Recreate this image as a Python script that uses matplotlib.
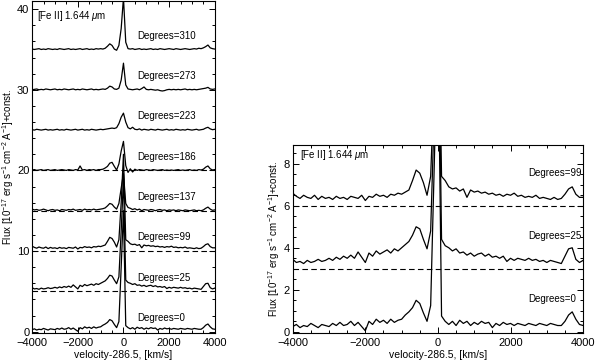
import numpy as np
import matplotlib
matplotlib.use("Agg")
import matplotlib.pyplot as plt
from matplotlib.ticker import MultipleLocator

# == Data ==
# velocity grid (km/s), one sample per 100 km/s
velocity = np.arange(-4000, 4001, 100)

# spectra relative to their own baseline (10^-17 erg/s/cm2/A)
flux_0 = [0.25, 0.35, 0.2, 0.3, 0.25, 0.4, 0.3, 0.2, 0.35, 0.3,
          0.25, 0.4, 0.3, 0.45, 0.3, 0.35, 0.5, 0.3, 0.45, 0.25,
          0.05, 0.5, 0.35, 0.6, 0.45, 0.55, 0.4, 0.6, 0.45, 0.55,
          0.6, 0.8, 0.95, 1.15, 1.5, 1.35, 0.9, 0.5, 1.25, 8.0,
          15.0,
          0.75, 0.5, 0.35, 0.5, 0.3, 0.55, 0.4, 0.5, 0.3, 0.45,
          0.35, 0.5, 0.4, 0.45, 0.2, 0.4, 0.3, 0.45, 0.35, 0.4,
          0.3, 0.4, 0.35, 0.3, 0.4, 0.35, 0.3, 0.4, 0.35, 0.3,
          0.4, 0.35, 0.3, 0.3, 0.5, 0.8, 0.95, 0.6, 0.35, 0.3]

flux_25 = [0.45, 0.3, 0.35, 0.25, 0.4, 0.3, 0.35, 0.45, 0.35, 0.4,
           0.5, 0.4, 0.55, 0.45, 0.6, 0.5, 0.65, 0.5, 0.8, 0.55,
           0.3, 0.75, 0.6, 0.85, 0.7, 0.8, 0.9, 0.75, 0.95, 0.85,
           1.0, 1.15, 1.3, 1.6, 2.0, 1.9, 1.4, 0.95, 1.8, 7.5,
           14.0,
           1.4, 1.1, 1.0, 0.85, 0.95, 0.75, 0.8, 0.65, 0.75, 0.6,
           0.7, 0.75, 0.6, 0.7, 0.55, 0.6, 0.5, 0.6, 0.35, 0.5,
           0.4, 0.5, 0.45, 0.4, 0.5, 0.4, 0.45, 0.35, 0.4, 0.3,
           0.4, 0.35, 0.3, 0.25, 0.6, 0.95, 1.0, 0.45, 0.3, 0.4]

flux_99 = [0.6, 0.45, 0.35, 0.5, 0.4, 0.35, 0.5, 0.3, 0.45, 0.35,
           0.4, 0.3, 0.45, 0.35, 0.4, 0.3, 0.45, 0.4, 0.35, 0.5,
           0.25, 0.45, 0.4, 0.55, 0.45, 0.5, 0.4, 0.55, 0.5, 0.6,
           0.55, 0.65, 0.75, 1.2, 1.7, 1.55, 1.1, 0.5, 1.4, 6.0,
           12.0,
           1.4, 1.2, 0.9, 0.8, 0.85, 0.7, 0.8, 0.4, 0.75, 0.65,
           0.7, 0.6, 0.65, 0.55, 0.6, 0.5, 0.55, 0.45, 0.55, 0.5,
           0.6, 0.45, 0.5, 0.4, 0.45, 0.4, 0.5, 0.35, 0.4, 0.35,
           0.3, 0.4, 0.3, 0.35, 0.55, 0.8, 0.9, 0.55, 0.4, 0.4]

flux_137 = [0.2, 0.1, 0.15, 0.05, 0.1, 0.2, 0.1, 0.0, 0.1, 0.15,
            0.05, 0.1, 0.0, 0.15, 0.1, 0.05, 0.15, 0.1, 0.2, 0.05,
            0.1, 0.15, 0.05, 0.2, 0.1, 0.15, 0.1, 0.2, 0.1, 0.15,
            0.2, 0.25, 0.35, 0.6, 0.9, 0.8, 0.45, 0.2, 0.9, 2.8,
            4.6,
            0.9, 0.4, 0.3, 0.15, 0.25, 0.1, 0.2, 0.0, 0.15, 0.1,
            0.05, 0.15, 0.1, 0.0, 0.1, 0.15, 0.05, 0.1, 0.0, 0.1,
            0.05, 0.1, 0.0, 0.1, 0.05, 0.0, 0.1, 0.05, 0.0, 0.05,
            0.1, 0.0, 0.05, 0.0, 0.1, 0.3, 0.45, 0.2, 0.05, 0.1]

flux_186 = [0.05, 0.1, 0.0, 0.05, 0.1, 0.0, 0.05, 0.1, 0.0, 0.05,
            0.1, 0.0, 0.05, 0.1, 0.05, 0.0, 0.1, 0.05, 0.0, 0.1,
            0.05, 0.55, 0.05, 0.1, 0.0, 0.1, 0.05, 0.1, 0.0, 0.1,
            0.1, 0.15, 0.3, 0.5, 0.9, 1.0, 0.5, 0.05, 0.8, 2.4,
            3.6,
            0.6, -0.25, 0.2, -0.2, 0.15, 0.0, 0.1, 0.05, 0.0, 0.1,
            0.05, 0.0, 0.1, 0.05, 0.0, 0.05, 0.1, 0.0, 0.05, 0.0,
            0.05, 0.0, 0.05, 0.1, 0.0, 0.05, 0.0, 0.05, 0.1, 0.0,
            0.05, 0.0, 0.1, 0.05, 0.15, 0.4, 0.55, 0.2, 0.05, 0.1]

flux_223 = [0.05, 0.0, 0.1, 0.05, 0.0, 0.05, 0.1, 0.0, 0.05, 0.0,
            0.05, 0.1, 0.0, 0.05, 0.0, 0.1, 0.05, 0.0, 0.05, 0.1,
            0.0, 0.05, 0.1, 0.0, 0.05, 0.0, 0.1, 0.05, 0.0, 0.05,
            0.1, 0.05, 0.1, 0.15, 0.2, 0.25, 0.2, 0.3, 0.8, 1.6,
            2.1,
            1.0, 0.3, 0.15, 0.35, 0.1, 0.05, 0.15, 0.0, 0.1, 0.05,
            0.0, 0.1, 0.05, 0.0, 0.1, 0.05, 0.0, 0.05, 0.1, 0.0,
            0.05, 0.0, 0.1, 0.05, 0.0, 0.05, 0.0, 0.1, 0.05, 0.0,
            0.05, 0.1, 0.0, 0.05, 0.1, 0.25, 0.35, 0.15, 0.05, 0.1]

flux_273 = [0.0, 0.05, 0.1, 0.0, 0.05, 0.0, 0.1, 0.05, 0.0, 0.05,
            0.1, 0.0, 0.05, 0.0, 0.1, 0.05, 0.0, 0.05, 0.1, 0.0,
            0.05, 0.0, 0.1, 0.05, 0.0, 0.05, 0.1, 0.0, 0.05, 0.0,
            0.05, 0.1, 0.05, 0.2, 0.45, 0.35, 0.1, 0.05, 0.2, 1.2,
            3.3,
            0.6, 0.1, 0.05, 0.0, 0.05, 0.1, 0.0, 0.15, 0.35, 0.05,
            0.0, 0.05, 0.0, -0.05, 0.0, -0.1, -0.15, -0.1, 0.0, 0.05,
            0.0, 0.05, 0.0, 0.05, 0.0, 0.05, 0.1, 0.0, 0.05, 0.0,
            0.05, 0.0, 0.05, 0.1, 0.15, 0.2, 0.3, 0.1, 0.05, 0.1]

flux_310 = [0.05, 0.0, 0.05, 0.1, 0.0, 0.05, 0.0, 0.1, 0.05, 0.0,
            0.05, 0.0, 0.1, 0.05, 0.0, 0.05, 0.1, 0.0, 0.05, 0.0,
            0.05, 0.1, 0.0, 0.05, 0.1, 0.0, 0.05, 0.0, 0.1, 0.05,
            0.1, 0.05, 0.15, 0.4, 0.7, 0.5, 0.05, -0.1, 0.5, 2.6,
            6.4,
            0.9, 0.1, 0.05, 0.1, 0.0, 0.05, 0.1, 0.0, 0.05, 0.0,
            0.05, 0.1, 0.0, 0.05, 0.0, 0.1, 0.05, 0.0, 0.05, 0.1,
            0.05, 0.0, 0.1, 0.05, 0.0, 0.05, 0.1, 0.05, 0.0, 0.05,
            0.1, 0.05, 0.15, 0.1, 0.2, 0.35, 0.55, 0.2, 0.1, 0.05]

# left panel: all angles, stacked by 5
left_angles = [0, 25, 99, 137, 186, 223, 273, 310]
left_flux = [flux_0, flux_25, flux_99, flux_137, flux_186, flux_223, flux_273, flux_310]
left_offsets = [0, 5, 10, 15, 20, 25, 30, 35]
left_dashed = [5, 10, 15, 20]

# right panel: three angles, stacked by 3
right_angles = [0, 25, 99]
right_flux = [flux_0, flux_25, flux_99]
right_offsets = [0, 3, 6]
right_dashed = [3, 6]

# == Style ==
plt.rcParams['font.family'] = ['Liberation Sans', 'DejaVu Sans']
plt.rcParams['mathtext.fontset'] = 'custom'
plt.rcParams['mathtext.it'] = 'Liberation Sans:italic'
plt.rcParams['mathtext.rm'] = 'Liberation Sans'

ylabel = r"Flux [10$^{-17}$ erg s$^{-1}$ cm$^{-2}$ A$^{-1}$]+const."
xlabel = "velocity-286.5, [km/s]"
title = r"[Fe II] 1.644 $\mu$m"

fig = plt.figure(figsize=(5.95, 3.63), dpi=100)
ax1 = fig.add_axes([0.054, 0.083, 0.307, 0.914])
ax2 = fig.add_axes([0.492, 0.083, 0.488, 0.518])


def style_axis(ax, ymajor, yminor):
    ax.set_xlim(-4000, 4000)
    ax.xaxis.set_major_locator(MultipleLocator(2000))
    ax.xaxis.set_minor_locator(MultipleLocator(500))
    ax.yaxis.set_major_locator(MultipleLocator(ymajor))
    ax.yaxis.set_minor_locator(MultipleLocator(yminor))
    ax.tick_params(which='both', direction='in', top=True, right=True,
                   labelsize=8, width=0.7)
    ax.tick_params(axis='x', pad=4)
    ax.tick_params(axis='y', pad=2)
    ax.tick_params(which='major', length=4)
    ax.tick_params(which='minor', length=2)
    for s in ax.spines.values():
        s.set_linewidth(0.8)
    ax.set_xlabel(xlabel, fontsize=7.5, labelpad=1)
    ax.set_ylabel(ylabel, fontsize=7, labelpad=1)


# Left panel
for ang, fl, off in zip(left_angles, left_flux, left_offsets):
    ax1.plot(velocity, np.array(fl) + off, color='black', lw=0.9)
    ax1.text(600, off + 1.7, f"Degrees={ang}", fontsize=7, va='center')
for d in left_dashed:
    ax1.axhline(d, color='black', lw=0.8, ls=(0, (5, 3)))
ax1.text(-3800, 39.1, title, fontsize=7, va='center')
ax1.set_ylim(-0.15, 41)
style_axis(ax1, 10, 2)

# Right panel
for ang, fl, off in zip(right_angles, right_flux, right_offsets):
    ax2.plot(velocity, np.array(fl) + off, color='black', lw=0.9)
    ax2.text(2480, off + 1.55, f"Degrees={ang}", fontsize=7, va='center')
for d in right_dashed:
    ax2.axhline(d, color='black', lw=0.8, ls=(0, (5, 3)))
ax2.text(-3800, 8.4, title, fontsize=7, va='center')
ax2.set_ylim(-0.05, 8.9)
style_axis(ax2, 2, 0.5)

fig.savefig("out.png", dpi=100)
